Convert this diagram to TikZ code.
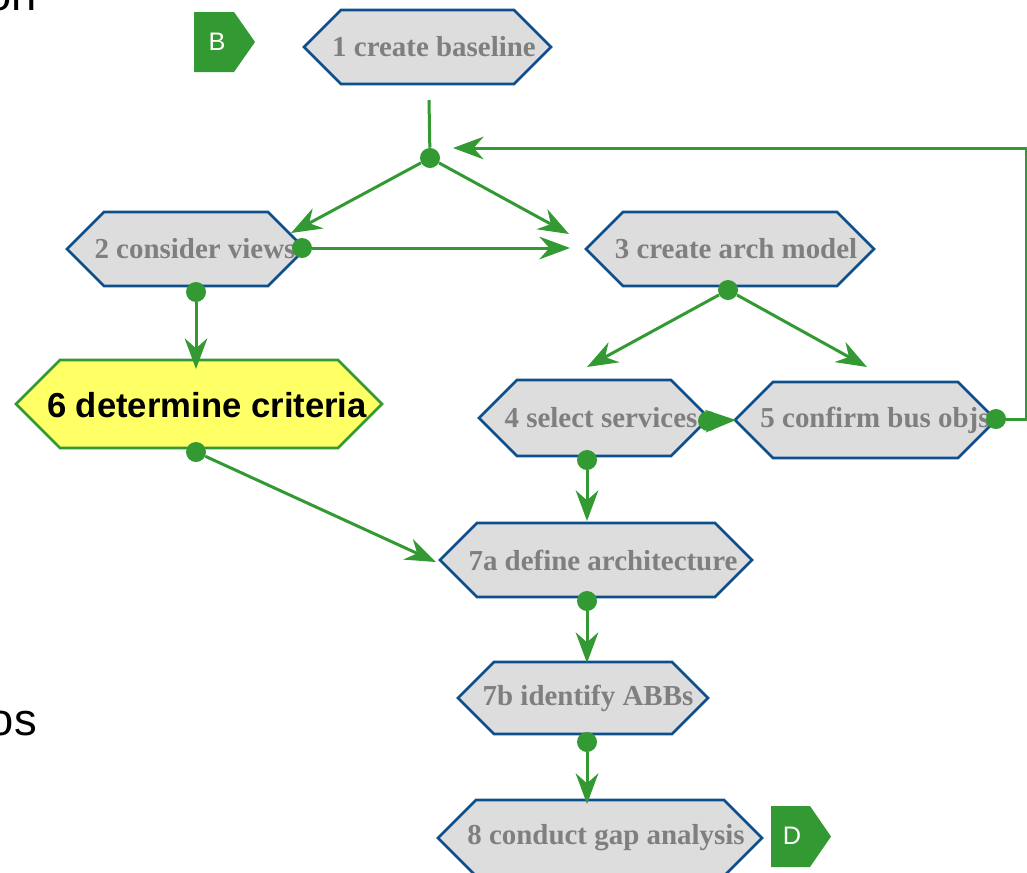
\documentclass[tikz,border=0pt]{standalone}
\usepackage{fontspec}
\newfontfamily\tnr{Liberation Serif}
\newfontfamily\arial{Liberation Sans}
\usetikzlibrary{arrows.meta}
\newlength{\pxu}\setlength{\pxu}{0.75pt}
\definecolor{gr}{HTML}{339933}
\definecolor{hexblue}{HTML}{0D4F8B}
\definecolor{hexfill}{HTML}{DDDDDD}
\definecolor{txtgray}{HTML}{7F7F7F}
\definecolor{yel}{HTML}{FFFF66}
\tikzset{
  hexline/.style={draw=hexblue, fill=hexfill, line width=2.6\pxu, line join=miter},
  yelline/.style={draw=gr, fill=yel, line width=2.6\pxu, line join=miter},
  hextext/.style={inner sep=0pt, text=txtgray, font=\tnr\bfseries\fontsize{21.7}{26}\selectfont},
  yeltext/.style={inner sep=0pt, text=black, font=\arial\bfseries\fontsize{26}{30}\selectfont},
  arr/.style={draw=gr, line width=3\pxu, -{Stealth[length=23pt,width=17pt,inset=7.5pt]}},
  conn/.style={draw=gr, line width=3\pxu},
  dot/.style={circle, fill=gr, draw=none, minimum size=20\pxu, inner sep=0pt},
  marker/.style={fill=gr, draw=none},
  markertext/.style={inner sep=0pt, text=white, font=\arial\fontsize{19}{22}\selectfont},
  fragment/.style={inner sep=0pt, text=black, font=\arial\fontsize{34}{40}\selectfont}
}
% #1 style, #2 cx, #3 cy, #4 half width, #5 half height
\newcommand\hexpath[5]{%
  \path[#1] (#2-#4,#3) -- (#2-#4+#5,#3-#5) -- (#2+#4-#5,#3-#5) -- (#2+#4,#3)
     -- (#2+#4-#5,#3+#5) -- (#2-#4+#5,#3+#5) -- cycle;}
\begin{document}
\begin{tikzpicture}[x=0.75pt,y=-0.75pt]
\useasboundingbox (0,0) rectangle (1027,872);
\begin{scope}
\clip (0,0) rectangle (1027,872);
% fragments of cut-off text
\node[fragment, anchor=base east] (fragon) at (37,10) {on};
\node[fragment, anchor=base east] (fragos) at (37,735) {os};

% hexagons
\hexpath{hexline}{427.5}{47}{123.5}{37}
\node[hextext] (n1) at (434,47) {1 create baseline};
\hexpath{hexline}{186}{249}{119}{37}
\node[hextext] (n2) at (195,249) {2 consider views};
\hexpath{hexline}{730}{249}{144}{37}
\node[hextext] (n3) at (736,249) {3 create arch model};
\hexpath{yelline}{199}{404}{183}{44}
\node[yeltext] (n6) at (207,405) {6 determine criteria};
\hexpath{hexline}{594}{418}{115}{38}
\node[hextext] (n4) at (601,418) {4 select services};
\hexpath{hexline}{865.5}{420}{130.5}{38}
\node[hextext] (n5) at (875,420) {5 confirm bus objs};
\hexpath{hexline}{596}{560}{156}{37}
\node[hextext] (n7a) at (603,560) {7a define architecture};
\hexpath{hexline}{583}{698}{125}{36}
\node[hextext] (n7b) at (588,698) {7b identify ABBs};
\hexpath{hexline}{600}{838}{162}{38}
\node[hextext] (n8) at (606,838) {8 conduct gap analysis};

% markers
\path[marker] (194,12) -- (234,12) -- (255,42) -- (234,72) -- (194,72) -- cycle;
\node[markertext] (mB) at (217,42) {B};
\path[marker] (771,806) -- (810,806) -- (831,836.5) -- (810,867) -- (771,867) -- cycle;
\node[markertext] (mD) at (792,836) {D};

% coordinates
\coordinate (s1) at (429,100);
\coordinate (tJ2) at (291,233);
\coordinate (tJ3) at (569,234);
\coordinate (t23) at (570,248);
\coordinate (t26) at (196,369);
\coordinate (t67a) at (436,562);
\coordinate (t34) at (587,367);
\coordinate (t35) at (867,367);
\coordinate (t45) at (736,420);
\coordinate (t47a) at (587,521);
\coordinate (t7a7b) at (587,663);
\coordinate (t7b8) at (587,804);
\coordinate (f1) at (1026.5,419);
\coordinate (f2) at (1026.5,148);
\coordinate (tfb) at (453,148);

% dots
\node[dot] (dJ) at (430,158) {};
\node[dot] (d2r) at (302,248) {};
\node[dot] (d2b) at (196,292) {};
\node[dot] (d6b) at (196,452) {};
\node[dot] (d3b) at (728,290) {};
\node[dot] (d4r) at (708,421) {};
\node[dot] (d4b) at (587,460) {};
\node[dot] (d5r) at (996,419) {};
\node[dot] (d7ab) at (587,601) {};
\node[dot] (d7bb) at (587,742) {};

% connectors
\draw[conn] (s1) -- (dJ);
\draw[arr] (dJ) -- (tJ2);
\draw[arr] (dJ) -- (tJ3);
\draw[arr] (d2r) -- (t23);
\draw[arr] (d2b) -- (t26);
\draw[arr] (d6b) -- (t67a);
\draw[arr] (d3b) -- (t34);
\draw[arr] (d3b) -- (t35);
\draw[arr] (d4r) -- (t45);
\draw[arr] (d4b) -- (t47a);
\draw[arr] (d7ab) -- (t7a7b);
\draw[arr] (d7bb) -- (t7b8);
\draw[arr] (d5r) -- (f1) -- (f2) -- (tfb);
\end{scope}
\end{tikzpicture}
\end{document}
